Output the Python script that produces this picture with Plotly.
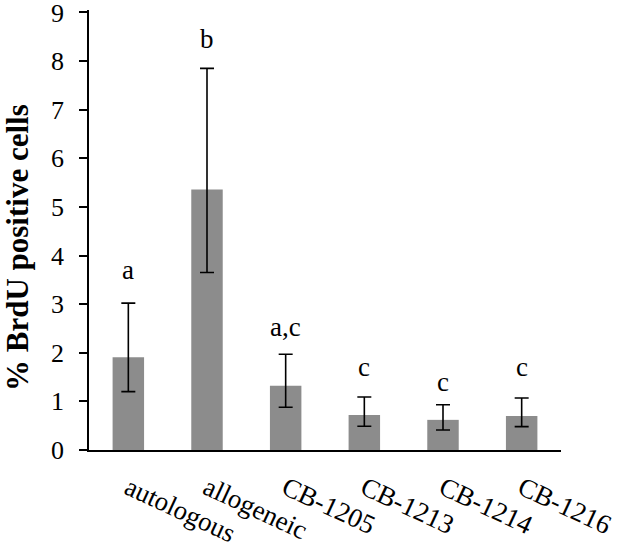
import plotly.graph_objects as go

categories = ["autologous", "allogeneic", "CB-1205", "CB-1213", "CB-1214", "CB-1216"]
values = [1.91, 5.36, 1.32, 0.72, 0.62, 0.70]
err_upper = [3.02, 7.85, 1.97, 1.09, 0.93, 1.07]
err_lower = [1.20, 3.65, 0.88, 0.49, 0.41, 0.48]
letters = ["a", "b", "a,c", "c", "c", "c"]
letter_y = [3.70, 8.46, 2.53, 1.70, 1.40, 1.70]
y_title = "% BrdU positive cells"

plus = [u - v for u, v in zip(err_upper, values)]
minus = [v - l for v, l in zip(values, err_lower)]

font = "Liberation Serif, Times New Roman, serif"

fig = go.Figure()
fig.add_trace(go.Bar(
    x=categories, y=values,
    marker=dict(color="#8c8c8c", line=dict(width=0)),
    error_y=dict(type="data", symmetric=False, array=plus, arrayminus=minus,
                 color="black", thickness=1.6, width=7),
    width=0.4,
))
for c, t, y in zip(categories, letters, letter_y):
    fig.add_annotation(x=c, y=y, text=t, showarrow=False,
                       font=dict(family=font, size=27, color="black"))

fig.add_annotation(xref="paper", yref="paper", x=-72 / 472, y=0.459,
                   xanchor="center", yanchor="middle", textangle=-90,
                   text="<b>" + y_title + "</b>", showarrow=False,
                   font=dict(family=font, size=31, color="black"))

fig.update_layout(
    width=631, height=549,
    margin=dict(l=89, r=70, t=10, b=99, autoexpand=False),
    paper_bgcolor="white", plot_bgcolor="white",
    showlegend=False,
    font=dict(family=font, size=24, color="black"),
    xaxis=dict(showline=True, linecolor="black", linewidth=1.5, ticks="",
               tickangle=25, ticklabelstandoff=10, automargin=False,
               tickfont=dict(family=font, size=27, color="black"),
               showgrid=False, zeroline=False),
    yaxis=dict(range=[0, 9.05], tickvals=list(range(10)), showline=True,
               linecolor="black", linewidth=1.5, automargin=False,
               ticks="outside", ticklen=8, tickcolor="black", tickwidth=1.5,
               ticklabelstandoff=10, ticklabeloverflow="allow",
               tickfont=dict(family=font, size=26, color="black"),
               showgrid=False, zeroline=False),
)
fig.write_html("out.html", config={"displayModeBar": False},
               post_script="document.body.style.margin='0px';")
